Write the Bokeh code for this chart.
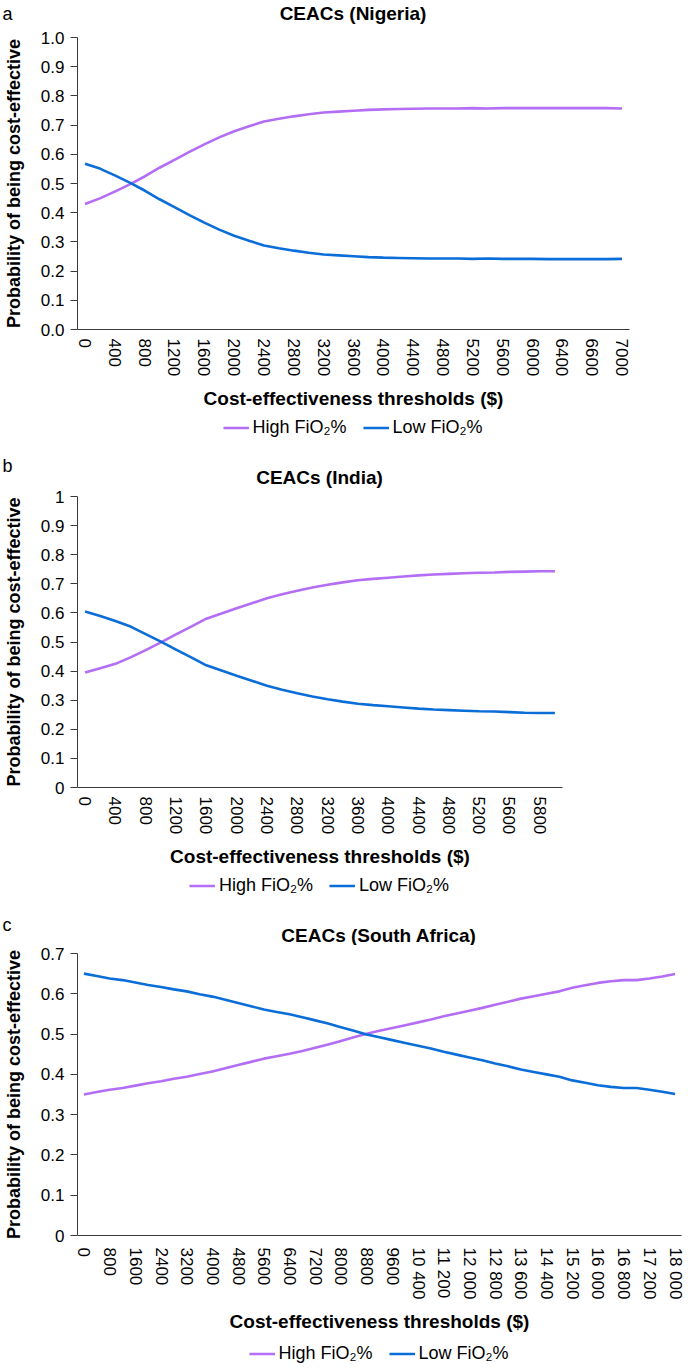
from bokeh.plotting import figure
from bokeh.models import Range1d, FixedTicker, Legend, LegendItem, Label, PrintfTickFormatter
from bokeh.embed import file_html
from bokeh.resources import INLINE

# ---------------- DATA ----------------
ng_thresholds = ["0", "200", "400", "600", "800", "1000", "1200", "1400", "1600", "1800",
                 "2000", "2200", "2400", "2600", "2800", "3000", "3200", "3400", "3600", "3800",
                 "4000", "4200", "4400", "4600", "4800", "5000", "5200", "5400", "5600", "5800",
                 "6000", "6200", "6400", "6500", "6600", "6800", "7000"]
ng_high = [0.430, 0.449, 0.472, 0.497, 0.524, 0.554, 0.581, 0.608, 0.634, 0.658,
           0.679, 0.696, 0.712, 0.722, 0.730, 0.737, 0.743, 0.746, 0.749, 0.752,
           0.754, 0.755, 0.756, 0.757, 0.757, 0.757, 0.758, 0.757, 0.758, 0.758,
           0.758, 0.758, 0.758, 0.758, 0.758, 0.758, 0.757]
ng_low = [0.568, 0.551, 0.528, 0.503, 0.476, 0.446, 0.419, 0.392, 0.366, 0.342,
          0.321, 0.304, 0.288, 0.278, 0.270, 0.263, 0.257, 0.254, 0.251, 0.248,
          0.246, 0.245, 0.244, 0.243, 0.243, 0.243, 0.242, 0.243, 0.242, 0.242,
          0.242, 0.241, 0.241, 0.241, 0.241, 0.241, 0.242]

in_thresholds = ["0", "200", "400", "600", "800", "1000", "1200", "1400", "1600", "1800",
                 "2000", "2200", "2400", "2600", "2800", "3000", "3200", "3400", "3600", "3800",
                 "4000", "4200", "4400", "4600", "4800", "5000", "5200", "5400", "5600", "5700",
                 "5800", "6000"]
in_high = [0.395, 0.410, 0.425, 0.447, 0.472, 0.499, 0.526, 0.553, 0.580, 0.598,
           0.616, 0.633, 0.650, 0.664, 0.676, 0.687, 0.697, 0.705, 0.712, 0.717,
           0.721, 0.725, 0.729, 0.732, 0.734, 0.736, 0.738, 0.739, 0.741, 0.742,
           0.743, 0.743]
in_low = [0.605, 0.589, 0.572, 0.553, 0.527, 0.501, 0.474, 0.447, 0.420, 0.402,
          0.384, 0.367, 0.350, 0.336, 0.324, 0.313, 0.303, 0.295, 0.288, 0.283,
          0.279, 0.275, 0.271, 0.268, 0.266, 0.264, 0.262, 0.261, 0.259, 0.257,
          0.256, 0.256]

sa_thresholds = ["0", "400", "800", "1200", "1600", "2000", "2400", "2800", "3200", "3600",
                 "4000", "4400", "4800", "5200", "5600", "6000", "6400", "6800", "7200", "7600",
                 "8000", "8400", "8800", "9200", "9600", "10 000", "10 400", "10 800", "11 200", "11 600",
                 "12 000", "12 400", "12 800", "13 200", "13 600", "14 000", "14 400", "14 800", "15 200", "15 600",
                 "16 000", "16 400", "16 800", "17 000", "17 200", "17 600", "18 000"]
sa_high = [0.350, 0.356, 0.362, 0.366, 0.372, 0.378, 0.383, 0.389, 0.394, 0.401,
           0.407, 0.415, 0.423, 0.431, 0.439, 0.445, 0.451, 0.458, 0.466, 0.474,
           0.483, 0.492, 0.501, 0.508, 0.515, 0.522, 0.529, 0.536, 0.544, 0.551,
           0.558, 0.565, 0.573, 0.580, 0.588, 0.594, 0.600, 0.606, 0.615, 0.621,
           0.627, 0.631, 0.634, 0.634, 0.638, 0.643, 0.649]
sa_low = [0.650, 0.644, 0.638, 0.634, 0.628, 0.622, 0.617, 0.611, 0.606, 0.599,
          0.593, 0.585, 0.577, 0.569, 0.561, 0.555, 0.549, 0.542, 0.534, 0.526,
          0.517, 0.508, 0.499, 0.492, 0.485, 0.478, 0.471, 0.464, 0.456, 0.449,
          0.442, 0.435, 0.427, 0.420, 0.412, 0.406, 0.400, 0.394, 0.385, 0.379,
          0.373, 0.369, 0.366, 0.366, 0.362, 0.357, 0.351]

y_ticks_1 = [0.0, 0.1, 0.2, 0.3, 0.4, 0.5, 0.6, 0.7, 0.8, 0.9, 1.0]
y_ticks_07 = [0.0, 0.1, 0.2, 0.3, 0.4, 0.5, 0.6, 0.7]

series_names = ["High FiO\u2082%", "Low FiO\u2082%"]
x_title = "Cost-effectiveness thresholds ($)"
y_title = "Probability of being cost-effective"

# ---------------- STYLE ----------------
PURPLE = "#B36EF5"
BLUE = "#0A6DD8"
AXIS = "#3a3a3a"
FONT = "Liberation Sans"
BOLD_SIZE = "19px"
W = 688
FL = 76


def blank(H, fl=0, fr=0, yr=(0, 1)):
    p = figure(width=W, height=H, x_range=Range1d(0, 1), y_range=Range1d(*yr),
               output_backend="svg", toolbar_location=None, title=None,
               x_axis_location=None, y_axis_location=None,
               min_border_left=fl, min_border_right=fr, min_border_top=0, min_border_bottom=0)
    p.outline_line_color = None
    p.xgrid.visible = False
    p.ygrid.visible = False
    return p


def header(letter, title, H, fr, letter_y, title_y):
    p = blank(H)
    p.add_layout(Label(x=2, y=H - letter_y, x_units="screen", y_units="screen",
                       text=letter, text_font=FONT, text_font_size="18px",
                       text_baseline="middle", text_color="black"))
    p.add_layout(Label(x=(FL + W - fr) / 2, y=H - title_y, x_units="screen", y_units="screen",
                       text=title, text_font=FONT, text_font_size=BOLD_SIZE, text_font_style="bold",
                       text_align="center", text_baseline="middle", text_color="black"))
    return p


def legend_fig(cats, high, low, H, fr):
    # the series are drawn off-range here: only their legend samples show
    p = blank(H, FL, fr, yr=(5, 6))
    xs = list(range(len(cats)))
    r1 = p.line(xs, high, line_color=PURPLE, line_width=2.6)
    r2 = p.line(xs, low, line_color=BLUE, line_width=2.6)
    legend = Legend(items=[LegendItem(label=series_names[0], renderers=[r1]),
                           LegendItem(label=series_names[1], renderers=[r2])],
                    orientation="horizontal", location="center",
                    border_line_color=None, background_fill_alpha=0,
                    label_text_font=FONT, label_text_font_size="18px",
                    label_text_color="black", glyph_width=26, glyph_height=18,
                    label_standoff=4, spacing=16, padding=0, margin=0)
    p.add_layout(legend, "center")
    return p


def main(cats, high, low, H, ft, fr, fb, ymax, yticks, yover, xstandoff):
    n = len(cats)
    xs = list(range(n))
    p = figure(width=W, height=H, x_range=Range1d(-0.5, n - 0.5), y_range=Range1d(0, ymax),
               output_backend="svg", toolbar_location=None, title=None,
               min_border_left=FL, min_border_top=ft, min_border_right=fr, min_border_bottom=fb)
    p.outline_line_color = None
    p.xgrid.visible = False
    p.ygrid.visible = False

    p.line(xs, high, line_color=PURPLE, line_width=2.6)
    p.line(xs, low, line_color=BLUE, line_width=2.6)

    xa = p.xaxis[0]
    xa.ticker = FixedTicker(ticks=list(range(0, n, 2)))
    xa.major_label_overrides = {i: cats[i] for i in range(0, n, 2)}
    xa.major_label_orientation = "vertical"
    xa.major_tick_out = 0
    xa.major_tick_in = 0
    xa.minor_tick_out = 0
    xa.minor_tick_in = 0
    xa.axis_line_color = AXIS
    xa.major_label_text_font = FONT
    xa.major_label_text_font_size = "17px"
    xa.major_label_text_color = "black"
    xa.major_label_standoff = xstandoff
    xa.axis_label = x_title
    xa.axis_label_text_font = FONT
    xa.axis_label_text_font_size = BOLD_SIZE
    xa.axis_label_text_font_style = "bold"
    xa.axis_label_text_color = "black"
    xa.axis_label_standoff = 9

    ya = p.yaxis[0]
    ya.ticker = FixedTicker(ticks=yticks)
    ya.formatter = PrintfTickFormatter(format="%.1f")
    ya.major_label_overrides = yover
    ya.major_tick_out = 7
    ya.major_tick_in = 0
    ya.minor_tick_out = 0
    ya.minor_tick_in = 0
    ya.axis_line_color = AXIS
    ya.major_tick_line_color = AXIS
    ya.major_label_text_font = FONT
    ya.major_label_text_font_size = "17px"
    ya.major_label_text_color = "black"
    ya.major_label_standoff = 6
    ya.axis_label = y_title
    ya.axis_label_text_font = FONT
    ya.axis_label_text_font_size = "18px"
    ya.axis_label_text_font_style = "bold"
    ya.axis_label_text_color = "black"
    ya.axis_label_standoff = 14
    return p


# Panel a (Nigeria): frame x 76..629
FR1 = 59
h1 = header("a", "CEACs (Nigeria)", 27, FR1, 13, 13)
m1 = main(ng_thresholds, ng_high, ng_low, 385, 10, FR1, 82, 1.0, y_ticks_1, {}, 9)
l1 = legend_fig(ng_thresholds, ng_high, ng_low, 30, FR1)

# Panel b (India): frame x 76..562
FR2 = 126
h2 = header("b", "CEACs (India)", 46, FR2, 23, 35)
m2 = main(in_thresholds, in_high, in_low, 382, 8, FR2, 82, 1.0, y_ticks_1, {0: "0", 1: "1"}, 9)
l2 = legend_fig(in_thresholds, in_high, in_low, 30, FR2)

# Panel c (South Africa): frame x 76..681
FR3 = 7
h3 = header("c", "CEACs (South Africa)", 45, FR3, 24, 35)
m3 = main(sa_thresholds, sa_high, sa_low, 393, 8, FR3, 103, 0.7, y_ticks_07, {0: "0"}, 12)
l3 = legend_fig(sa_thresholds, sa_high, sa_low, 30, FR3)

roots = [h1, m1, l1, h2, m2, l2, h3, m3, l3]
open("out.html", "w").write(file_html(roots, INLINE))
